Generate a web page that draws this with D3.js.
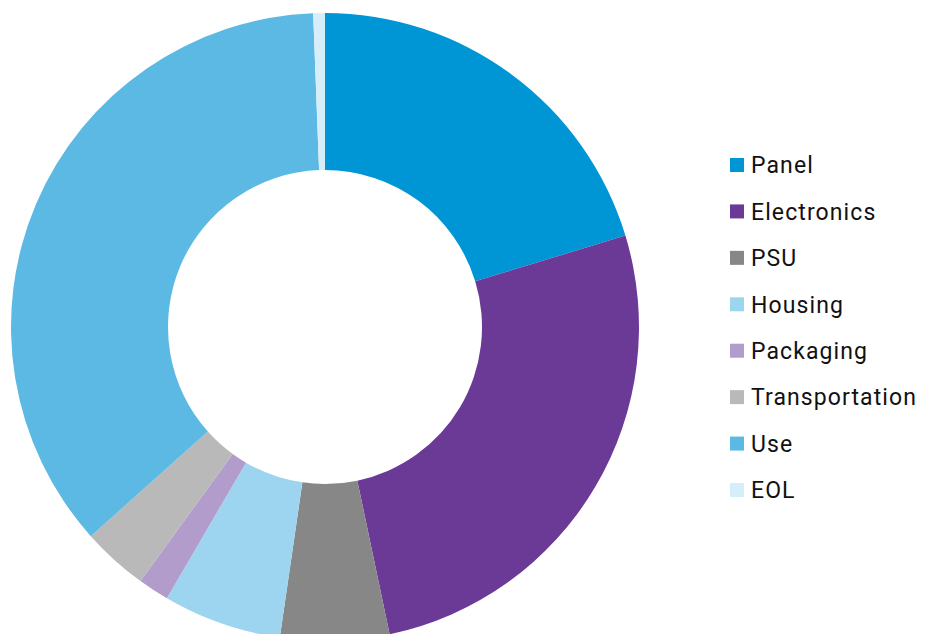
<!DOCTYPE html>
<html><head><meta charset="utf-8">
<script src="https://cdn.jsdelivr.net/npm/d3@7"></script>
<style>html,body{margin:0;padding:0;background:#fff;}</style>
</head><body>
<svg id="chart" width="933" height="634"></svg>
<script>
const categories = ["Panel","Electronics","PSU","Housing","Packaging","Transportation","Use","EOL"];
const values = [20.3, 26.4, 5.6, 6.1, 1.6, 3.4, 36.0, 0.6];
const colors = ["#0096d6","#6b3a96","#878787","#9dd5f0","#b19ccb","#b9b9b9","#5bb9e3","#d6eef9"];

const svg = d3.select("#chart");
const cx = 325, cy = 327, outerR = 314, innerR = 157;
const data = categories.map((c,i)=>({name:c, value:values[i], color:colors[i]}));
const pie = d3.pie().value(d=>d.value).sort(null);
const arc = d3.arc().innerRadius(innerR).outerRadius(outerR);
const g = svg.append("g").attr("transform",`translate(${cx},${cy})`);
g.selectAll("path").data(pie(data)).join("path")
  .attr("d",arc).attr("fill",d=>d.data.color);

const legendY = d3.scalePoint().domain(categories).range([165,490]);
const lg = svg.append("g");
const items = lg.selectAll("g").data(data).join("g")
  .attr("transform",d=>`translate(730,${legendY(d.name)})`);
items.append("rect").attr("x",0).attr("y",-7).attr("width",14).attr("height",14).attr("fill",d=>d.color);
items.append("text").attr("x",21).attr("y",0).attr("dy","0.36em")
  .attr("font-family","Roboto, 'DejaVu Sans', sans-serif").attr("font-size",23)
  .attr("font-weight",400).attr("letter-spacing",1.1)
  .attr("fill","#111").text(d=>d.name);
</script>
</body></html>
